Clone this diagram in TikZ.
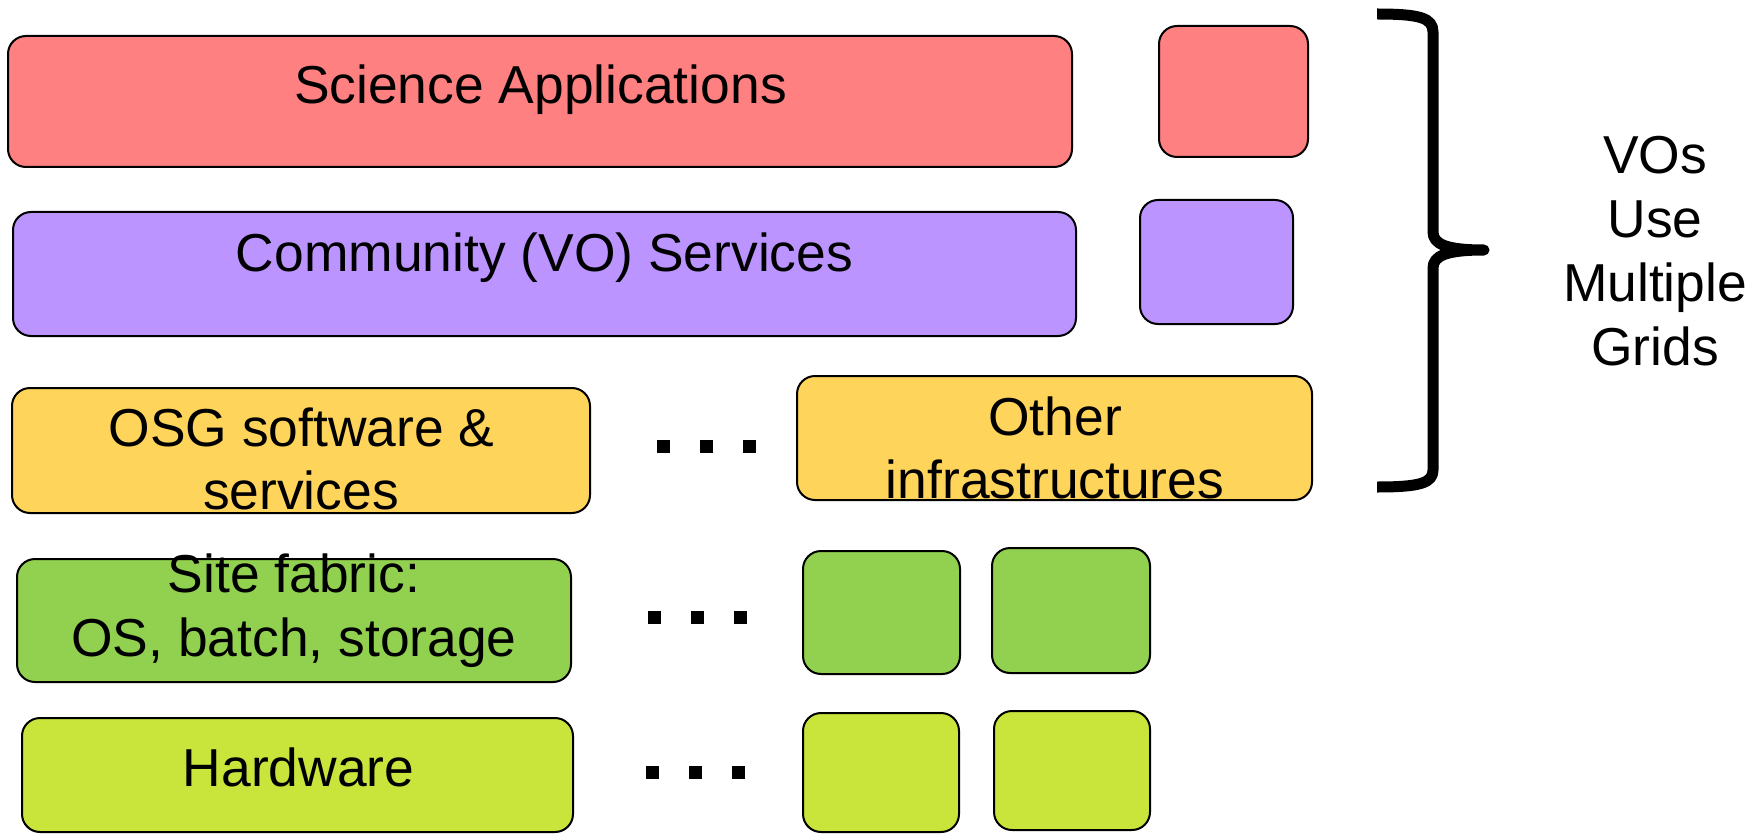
\documentclass[tikz,border=0pt]{standalone}
\usepackage{fontspec}
\setmainfont{Liberation Sans}
\definecolor{cpink}{HTML}{FF8080}
\definecolor{cpurple}{HTML}{BC94FF}
\definecolor{cyellow}{HTML}{FFD45A}
\definecolor{cgreen}{HTML}{92D050}
\definecolor{clime}{HTML}{C9E43A}
\tikzset{
  box/.style={draw=black, line width=1pt, rounded corners=9pt, inner sep=0pt, outer sep=0pt},
  txt/.style={anchor=base, inner sep=0pt, font=\fontsize{26.7}{31}\selectfont},
  dotsq/.style={fill=black, draw=none, minimum size=6.5pt, inner sep=0pt},
}
\begin{document}
\begin{tikzpicture}[x=0.5pt, y=-0.5pt]
\useasboundingbox (0,0) rectangle (1748,834);
% boxes
\node[box, fill=cpink,   minimum width=532pt,   minimum height=65.5pt] (sci)  at (540,101.5) {};
\node[box, fill=cpink,   minimum width=74.5pt,  minimum height=65.5pt] (scis) at (1233.5,91.5) {};
\node[box, fill=cpurple, minimum width=531.5pt, minimum height=62pt]   (com)  at (544.5,274) {};
\node[box, fill=cpurple, minimum width=76.5pt,  minimum height=62pt]   (coms) at (1216.5,262) {};
\node[box, fill=cyellow, minimum width=289pt,   minimum height=62.5pt] (osg)  at (301,450.5) {};
\node[box, fill=cyellow, minimum width=257.5pt, minimum height=62pt]   (oth)  at (1054.5,438) {};
\node[box, fill=cgreen,  minimum width=277pt,   minimum height=61.5pt] (site) at (294,620.5) {};
\node[box, fill=cgreen,  minimum width=78.5pt,  minimum height=61.5pt] (sa)   at (881.5,612.5) {};
\node[box, fill=cgreen,  minimum width=79pt,    minimum height=62.5pt] (sb)   at (1071,610.5) {};
\node[box, fill=clime,   minimum width=275.5pt, minimum height=57pt]   (hw)   at (297.5,775) {};
\node[box, fill=clime,   minimum width=78pt,    minimum height=59.5pt] (ha)   at (881,772.5) {};
\node[box, fill=clime,   minimum width=78pt,    minimum height=59.5pt] (hb)   at (1072,770.5) {};
% texts
\node[txt] (tsci)  at (540.5,104) {Science Applications};
\node[txt] (tcom)  at (544.5,271.5) {Community (VO) Services};
\node[txt] (tosg1) at (301.5,446.5) {OSG software \&};
\node[txt] (tosg2) at (301,509.5) {services};
\node[txt] (toth1) at (1055,435) {Other};
\node[txt] (toth2) at (1055,498) {infrastructures};
\node[txt] (tsit1) at (294,592) {Site fabric:};
\node[txt] (tsit2) at (294,656) {OS, batch, storage};
\node[txt] (thw)   at (298.5,786) {Hardware};
\node[txt] (vo1) at (1655,174) {VOs};
\node[txt] (vo2) at (1655,237.5) {Use};
\node[txt] (vo3) at (1655,301.5) {Multiple};
\node[txt] (vo4) at (1655,365) {Grids};
% dots
\foreach \x in {663,706,749} \node[dotsq] at (\x,446) {};
\foreach \x in {654,697,740} \node[dotsq] at (\x,617) {};
\foreach \x in {652,695,738} \node[dotsq] at (\x,772) {};
% brace
\draw[line width=5.5pt, line join=round]
  (1377,14) .. controls (1420,14) and (1433,18) .. (1433,32)
  -- (1433,232) .. controls (1433,244) and (1446,250) .. (1484,250)
  .. controls (1446,250) and (1433,256) .. (1433,268)
  -- (1433,470) .. controls (1433,483) and (1420,487) .. (1377,487);
\end{tikzpicture}
\end{document}
